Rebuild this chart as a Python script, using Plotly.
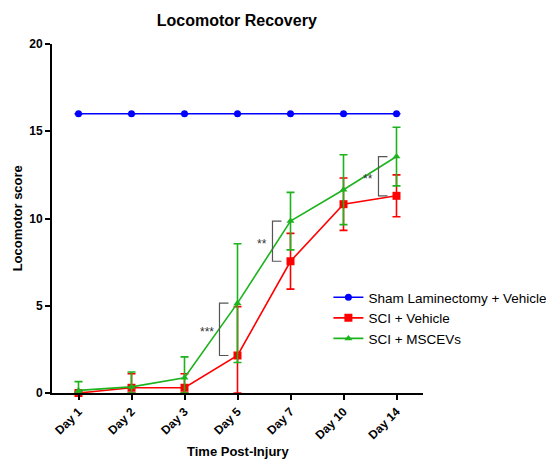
import numpy as np
import plotly.graph_objects as go

days = ["Day 1", "Day 2", "Day 3", "Day 5", "Day 7", "Day 10", "Day 14"]

sham_mean = [16, 16, 16, 16, 16, 16, 16]
sham_err = [0, 0, 0, 0, 0, 0, 0]

veh_mean = [0.0, 0.3, 0.3, 2.15, 7.55, 10.82, 11.3]
veh_err = [0.05, 0.8, 0.8, 2.8, 1.6, 1.5, 1.2]

msc_mean = [0.15, 0.35, 0.87, 5.15, 9.85, 11.65, 13.55]
msc_err = [0.5, 0.85, 1.2, 3.4, 1.65, 2.0, 1.68]

# significance markers: (day index, label)
sig_marks = [(3, "***"), (4, "**"), (6, "**")]

FONT = "Arial, Liberation Sans, sans-serif"

fig = go.Figure()

def add_series(name, mean, err, color, symbol, size):
    mean = np.array(mean, dtype=float)
    err = np.array(err, dtype=float)
    fig.add_trace(go.Scatter(
        x=days, y=mean, name=name, mode="lines+markers",
        line=dict(color=color, width=1.6),
        marker=dict(color=color, symbol=symbol, size=size),
        error_y=dict(type="data", symmetric=False, array=err,
                     arrayminus=np.minimum(err, mean),
                     color=color, thickness=1.6, width=4),
        cliponaxis=False,
    ))

add_series("Sham Laminectomy + Vehicle", sham_mean, sham_err, "#0000FF", "circle", 7)
add_series("SCI + Vehicle", veh_mean, veh_err, "#FF0000", "square", 8)
add_series("SCI + MSCEVs", msc_mean, msc_err, "#1DB31D", "triangle-up", 7)

for idx, label in sig_marks:
    lo = veh_mean[idx]
    hi = msc_mean[idx]
    x0 = idx - 0.34
    x1 = idx - 0.17
    fig.add_shape(type="path",
                  path=f"M {x1},{hi} L {x0},{hi} L {x0},{lo} L {x1},{lo}",
                  xref="x", yref="y",
                  line=dict(color="#555555", width=1.2))
    fig.add_annotation(x=x0, y=(lo + hi) / 2, xref="x", yref="y",
                       text=label, showarrow=False, xanchor="right",
                       yanchor="middle", xshift=-3, yshift=-3,
                       font=dict(family=FONT, size=12, color="#333333"))

# axis titles
fig.add_annotation(text="<b>Time Post-Injury</b>", xref="paper", yref="paper",
                   x=0.5, y=-0.168, xanchor="center", yanchor="middle",
                   showarrow=False, font=dict(family=FONT, size=13, color="black"))
fig.add_annotation(text="<b>Locomotor score</b>", xref="paper", yref="paper",
                   x=-0.092, y=0.5, xanchor="center", yanchor="middle",
                   textangle=-90, showarrow=False,
                   font=dict(family=FONT, size=13, color="black"))

fig.update_layout(
    width=546, height=452,
    margin=dict(l=44, r=131, t=36, b=67, autoexpand=False),
    paper_bgcolor="white", plot_bgcolor="white",
    title=dict(text="<b>Locomotor Recovery</b>", x=0.419, xanchor="center",
               y=0.985, yanchor="top",
               font=dict(family=FONT, size=16, color="black")),
    font=dict(family=FONT, color="black"),
    showlegend=True,
    legend=dict(x=0.745, y=0.318, xanchor="left", yanchor="top",
                xref="paper", yref="paper",
                font=dict(family=FONT, size=13.5, color="black"),
                bgcolor="rgba(0,0,0,0)", tracegroupgap=0),
)

fig.update_xaxes(
    type="category", range=[-0.5, 6.5], automargin=False,
    showline=True, linecolor="black", linewidth=2,
    ticks="outside", ticklen=5, tickwidth=2, tickcolor="black",
    tickangle=-45, showgrid=False, zeroline=False,
    tickfont=dict(family=FONT, size=12, color="black", weight="bold"),
)

fig.update_yaxes(
    range=[0, 20], tickvals=[0, 5, 10, 15, 20], automargin=False,
    showline=True, linecolor="black", linewidth=2,
    ticks="outside", ticklen=5, tickwidth=2, tickcolor="black",
    showgrid=False, zeroline=False,
    tickfont=dict(family=FONT, size=12, color="black", weight="bold"),
)

fig.write_html("out.html")
